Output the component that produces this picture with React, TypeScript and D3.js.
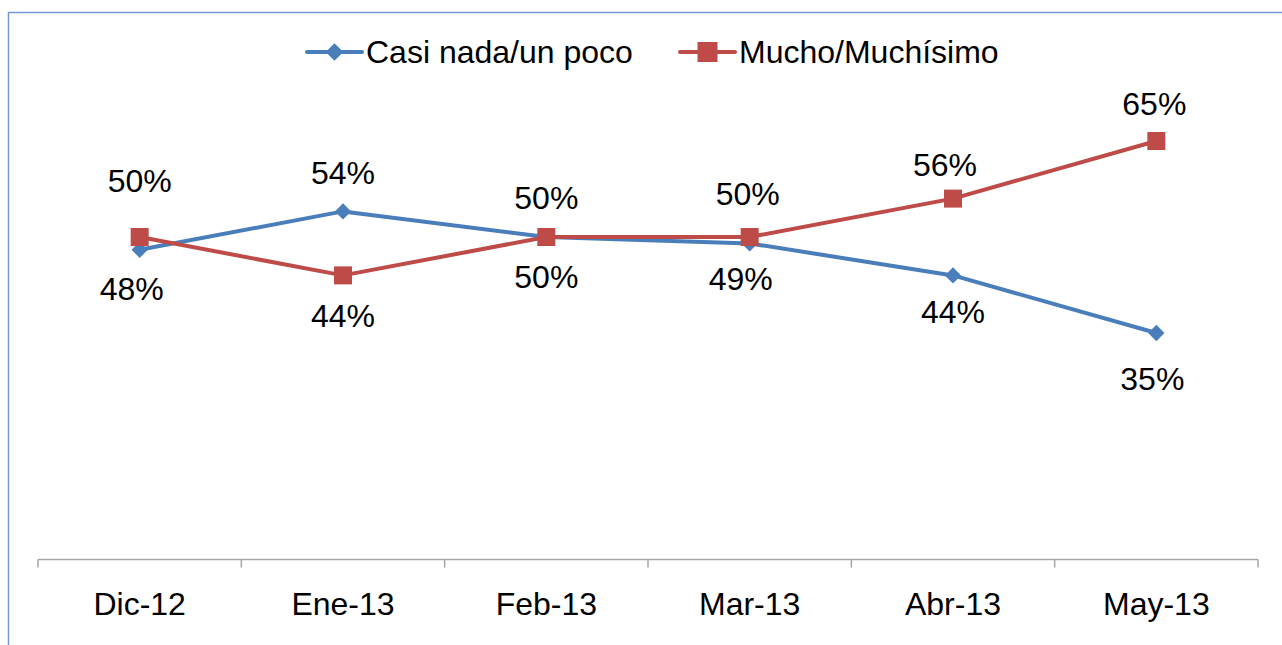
import React, { useRef, useEffect } from "react";
import * as d3 from "d3";

// chart data
const months = ["Dic-12", "Ene-13", "Feb-13", "Mar-13", "Abr-13", "May-13"];
const casiNada = [48, 54, 50, 49, 44, 35];
const mucho = [50, 44, 50, 50, 56, 65];
const seriesNames = ["Casi nada/un poco", "Mucho/Muchísimo"];

// where each data label sits (Excel labels were dragged by hand in the original)
const casiNadaLabelDy = [39, -39, 40, 35, 36, 46];
const casiNadaLabelDx = [-8, 0, 0, -9, 0, -4];
const muchoLabelDy = [-56, 40, -39, -43, -34, -37];
const muchoLabelDx = [0, 0, 0, -2, -8, -2];

export default function App() {
  const svgRef = useRef<SVGSVGElement>(null);

  useEffect(() => {
    const width = 1282;
    const height = 645;
    const font = "'Liberation Sans', Arial, sans-serif";
    const fontSize = "32px";

    const svg = d3.select(svgRef.current);
    svg.selectAll("*").remove();
    svg.attr("width", width).attr("height", height);

    svg.append("rect").attr("width", width).attr("height", height).attr("fill", "#fff");

    // outer chart border (right and bottom run off the picture)
    svg
      .append("rect")
      .attr("x", 8.5)
      .attr("y", 12.5)
      .attr("width", width + 20)
      .attr("height", height + 20)
      .attr("fill", "none")
      .attr("stroke", "#739bd2")
      .attr("stroke-width", 1.5);

    const x = d3.scaleBand().domain(months).range([38, 1258]);
    const y = d3.scaleLinear().domain([0, 80]).range([557, 45]);
    const cx = (m: string) => (x(m) as number) + x.bandwidth() / 2;
    const axisY = 559.5;

    // category axis
    const axis = svg.append("g");
    axis
      .append("line")
      .attr("x1", 38)
      .attr("x2", 1258)
      .attr("y1", axisY)
      .attr("y2", axisY)
      .attr("stroke", "#a6a6a6")
      .attr("stroke-width", 1.5);
    const tickXs = months.map((m) => x(m) as number).concat([1258]);
    axis
      .selectAll("line.tick")
      .data(tickXs)
      .join("line")
      .attr("class", "tick")
      .attr("x1", (d) => d)
      .attr("x2", (d) => d)
      .attr("y1", axisY)
      .attr("y2", axisY + 8)
      .attr("stroke", "#a6a6a6")
      .attr("stroke-width", 1.5);
    axis
      .selectAll("text")
      .data(months)
      .join("text")
      .attr("x", (d) => cx(d))
      .attr("y", 604)
      .attr("dy", "0.35em")
      .attr("text-anchor", "middle")
      .style("font-family", font)
      .style("font-size", fontSize)
      .style("fill", "#000")
      .text((d) => d);

    const line = d3
      .line<number>()
      .x((_, i) => cx(months[i]))
      .y((d) => y(d));

    const blue = "#4a7ebb";
    const red = "#be4b48";
    const diamond = d3.symbol().type(d3.symbolDiamond2);
    const square = d3.symbol().type(d3.symbolSquare);

    // blue series
    svg
      .append("path")
      .datum(casiNada)
      .attr("d", line)
      .attr("fill", "none")
      .attr("stroke", blue)
      .attr("stroke-width", 4)
      .attr("stroke-linejoin", "round");
    svg
      .selectAll("path.dia")
      .data(casiNada)
      .join("path")
      .attr("class", "dia")
      .attr("transform", (d, i) => `translate(${cx(months[i])},${y(d)})`)
      .attr("d", diamond.size(170)())
      .attr("fill", blue);

    // red series
    svg
      .append("path")
      .datum(mucho)
      .attr("d", line)
      .attr("fill", "none")
      .attr("stroke", red)
      .attr("stroke-width", 4)
      .attr("stroke-linejoin", "round");
    svg
      .selectAll("path.sq")
      .data(mucho)
      .join("path")
      .attr("class", "sq")
      .attr("transform", (d, i) => `translate(${cx(months[i])},${y(d)})`)
      .attr("d", square.size(324)())
      .attr("fill", red);

    // data labels
    const labels = (vals: number[], dxs: number[], dys: number[], cls: string) =>
      svg
        .selectAll(`text.${cls}`)
        .data(vals)
        .join("text")
        .attr("class", cls)
        .attr("x", (d, i) => cx(months[i]) + dxs[i])
        .attr("y", (d, i) => y(d) + dys[i])
        .attr("dy", "0.35em")
        .attr("text-anchor", "middle")
        .style("font-family", font)
        .style("font-size", fontSize)
        .style("fill", "#000")
        .text((d) => `${d}%`);
    labels(casiNada, casiNadaLabelDx, casiNadaLabelDy, "lb");
    labels(mucho, muchoLabelDx, muchoLabelDy, "lr");

    // legend
    const legend = [
      { name: seriesNames[0], color: blue, sym: diamond.size(200)(), x: 307 },
      { name: seriesNames[1], color: red, sym: square.size(400)(), x: 680 },
    ];
    const lg = svg
      .selectAll("g.legend")
      .data(legend)
      .join("g")
      .attr("class", "legend")
      .attr("transform", (d) => `translate(${d.x},52)`);
    lg.append("line")
      .attr("x1", 0)
      .attr("x2", 55)
      .attr("stroke", (d) => d.color)
      .attr("stroke-width", 4)
      .attr("stroke-linecap", "round");
    lg.append("path")
      .attr("transform", "translate(27.5,0)")
      .attr("d", (d) => d.sym)
      .attr("fill", (d) => d.color);
    lg.append("text")
      .attr("x", 59)
      .attr("dy", "0.35em")
      .style("font-family", font)
      .style("font-size", fontSize)
      .style("fill", "#000")
      .text((d) => d.name);
  }, []);

  return (
    <svg
      ref={svgRef}
      style={{ position: "absolute", left: 0, top: 0, display: "block" }}
    ></svg>
  );
}
